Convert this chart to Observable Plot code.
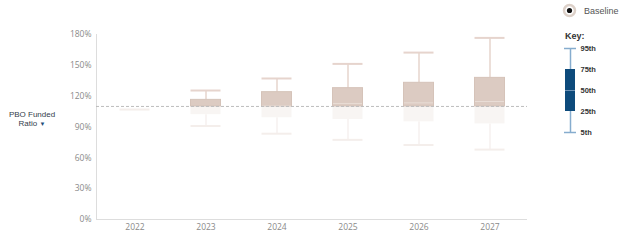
<!DOCTYPE html>
<html>
<head>
<meta charset="utf-8">
<script src="https://cdn.jsdelivr.net/npm/d3@7"></script>
<script src="https://cdn.jsdelivr.net/npm/@observablehq/plot@0.6"></script>
<style>
  body { margin: 0; background: #fff; }
  #wrap { position: relative; width: 624px; height: 252px; overflow: hidden; font-family: "Liberation Sans", Arial, sans-serif; }
  #main, #key { position: absolute; left: 0; top: 0; }
  #key { left: 540px; top: 40px; }
  #ylab { position: absolute; left: 2px; top: 111px; width: 60px; text-align: center; font-size: 8px; line-height: 8.5px; color: #34404c; }
  #ylab .tri { color: #1f4e79; font-size: 6px; }
  #legend { position: absolute; left: 562px; top: 3px; font-size: 9px; color: #555; display: flex; align-items: center; }
  #keytitle { position: absolute; left: 565px; top: 31px; font-size: 9px; color: #333; font-weight: 600; }
</style>
</head>
<body>
<div id="wrap">
  <div id="main"></div>
  <div id="key"></div>
  <div id="ylab">PBO Funded<br>Ratio <span class="tri">&#9660;</span></div>
  <div id="legend">
    <svg width="15" height="15" style="margin-right:7px"><circle cx="7.5" cy="7.5" r="5.5" fill="#fff" stroke="#dcd0c8" stroke-width="2.5"/><circle cx="7.5" cy="7.5" r="2.6" fill="#111"/></svg>
    <span>Baseline</span>
  </div>
  <div id="keytitle">Key:</div>
</div>
<script>
const years = ["2022", "2023", "2024", "2025", "2026", "2027"];
const p5  = [107, 91.0, 83.5, 77.5, 72.5, 68.0];
const p25 = [107, 102.0, 99.0, 97.3, 95.0, 93.0];
const p50 = [107, 108.5, 110.5, 112.8, 113.5, 114.8];
const p75 = [107, 116.4, 123.9, 127.8, 133.0, 137.8];
const p95 = [107, 125.5, 137.2, 151.4, 162.4, 176.7];
const baseline = 110;
const yTicks = [0, 30, 60, 90, 120, 150, 180];
const keyLabels = ["95th", "75th", "50th", "25th", "5th"];

const rows = years.map((year, i) => ({year, p5: p5[i], p25: p25[i], p50: p50[i], p75: p75[i], p95: p95[i]}));
const lowBox = rows.filter(d => d.p25 < baseline && d.p75 > d.p25).map(d => ({...d, top: Math.min(d.p75, baseline)}));
const lowWhisk = rows.filter(d => d.p5 < baseline && d.p25 > d.p5).map(d => ({...d, top: Math.min(d.p25, baseline)}));
const lowCap = rows.filter(d => d.p5 < baseline);
const hiBox = rows.filter(d => d.p75 > baseline).map(d => ({...d, bot: Math.max(d.p25, baseline)}));
const hiWhisk = rows.filter(d => d.p95 > baseline && d.p95 > d.p75).map(d => ({...d, bot: Math.max(d.p75, baseline)}));
const hiCap = rows.filter(d => d.p95 > baseline && d.p95 > d.p75);
const hiMed = rows.filter(d => d.p50 > baseline);

const ins = 20.5;
const main = Plot.plot({
  width: 624,
  height: 252,
  marginLeft: 96,
  marginRight: 97,
  marginTop: 34,
  marginBottom: 33,
  style: {fontFamily: "'Open Sans', sans-serif", fontSize: "8.5px", color: "#8a8a8a", background: "transparent"},
  x: {type: "band", domain: years, padding: 0, label: null},
  y: {domain: [0, 180], label: null},
  marks: [
    Plot.axisX({tickSize: 0, tickPadding: 4, fill: "#8a8a8a", label: null}),
    Plot.axisY({ticks: yTicks, tickSize: 0, tickPadding: 5, tickFormat: d => d + "%", fill: "#8a8a8a", label: null}),
    Plot.frame({anchor: "left", stroke: "#dddddd"}),
    Plot.ruleY([0], {stroke: "#dddddd"}),
    // faded part below baseline
    Plot.ruleX(lowWhisk, {x: "year", y1: "p5", y2: "top", stroke: "#f6f1ef", strokeWidth: 1.5}),
    Plot.tickY(lowCap, {x: "year", y: "p5", stroke: "#f4eeeb", strokeWidth: 2, insetLeft: ins, insetRight: ins}),
    Plot.barY(lowBox, {x: "year", y1: "p25", y2: "top", fill: "#f8f5f3", insetLeft: ins, insetRight: ins}),
    // solid part above baseline
    Plot.ruleX(hiWhisk, {x: "year", y1: "bot", y2: "p95", stroke: "#e6d4cd", strokeWidth: 1.5}),
    Plot.tickY(hiCap, {x: "year", y: "p95", stroke: "#e6d4cd", strokeWidth: 2, insetLeft: ins, insetRight: ins}),
    Plot.barY(hiBox, {x: "year", y1: "bot", y2: "p75", fill: "#dccbc2", stroke: "#d5c3b9", strokeWidth: 1, insetLeft: ins, insetRight: ins}),
    Plot.tickY(hiMed, {x: "year", y: "p50", stroke: "#e9ddd6", strokeWidth: 1, insetLeft: ins + 0.5, insetRight: ins + 0.5}),
    Plot.ruleY([baseline], {stroke: "#bdbdbd", strokeDasharray: "3,2", strokeWidth: 1})
  ]
});
document.getElementById("main").appendChild(main);

const key = Plot.plot({
  width: 84,
  height: 100,
  marginLeft: 25,
  marginRight: 49,
  marginTop: 8,
  marginBottom: 8,
  style: {fontFamily: "'Liberation Sans', Arial, sans-serif", fontSize: "7.5px", fontWeight: "bold", color: "#333", background: "transparent"},
  x: {type: "band", domain: ["key"], padding: 0, axis: null},
  y: {type: "point", domain: keyLabels, padding: 0, axis: null},
  marks: [
    Plot.ruleX(["key"], {x: d => d, y1: () => "95th", y2: () => "5th", stroke: "#86acce", strokeWidth: 1.5}),
    Plot.tickY(["95th", "5th"], {x: () => "key", y: d => d, stroke: "#86acce", strokeWidth: 1.5, insetLeft: -1, insetRight: -1}),
    Plot.barY(["key"], {x: d => d, y1: () => "75th", y2: () => "25th", fill: "#0d4a7b"}),
    Plot.tickY(["50th"], {x: () => "key", y: d => d, stroke: "#6e93b6", strokeWidth: 1}),
    Plot.text(keyLabels, {x: () => "key", y: d => d, text: d => d, textAnchor: "start", dx: 10, fill: "#333"})
  ]
});
document.getElementById("key").appendChild(key);
</script>
</body>
</html>
